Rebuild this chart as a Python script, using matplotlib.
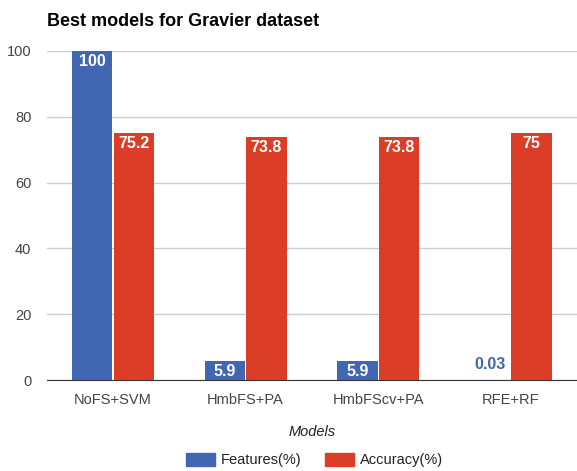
import numpy as np
import matplotlib.pyplot as plt
from matplotlib.patches import Patch

plt.rcParams['font.family'] = ['Liberation Sans', 'DejaVu Sans']

# данные
models = ['NoFS+SVM', 'HmbFS+PA', 'HmbFScv+PA', 'RFE+RF']
features = [100, 5.9, 5.9, 0.03]
accuracy = [75.2, 73.8, 73.8, 75]
feat_labels = ['100', '5.9', '5.9', '0.03']
acc_labels = ['75.2', '73.8', '73.8', '75']

blue = '#4267b2'
red = '#dc3d26'

fig = plt.figure(figsize=(5.77, 4.71), dpi=100)
ax = fig.add_axes([0.081, 0.193, 0.919, 0.699])

x = np.arange(len(models))
w = 0.305
ax.bar(x - w / 2 - 0.004, features, width=w, color=blue, zorder=3)
ax.bar(x + w / 2 + 0.004, accuracy, width=w, color=red, zorder=3)

# подписи значений
for i in range(len(models)):
    if features[i] > 4:
        ax.text(x[i] - w / 2 - 0.004, features[i] - 1.0, feat_labels[i], ha='center', va='top',
                color='white', fontsize=11.5, fontweight='bold', zorder=4)
    else:
        ax.text(x[i] - w / 2 - 0.004, features[i] + 2.5, feat_labels[i], ha='center', va='bottom',
                color=blue, fontsize=11.5, fontweight='bold', zorder=4)
    ax.text(x[i] + w / 2 + 0.004, accuracy[i] - 1.0, acc_labels[i], ha='center', va='top',
            color='white', fontsize=11.5, fontweight='bold', zorder=4)

ax.set_xlim(-0.5, 3.5)
ax.set_ylim(0, 100)
ax.set_yticks([0, 20, 40, 60, 80, 100])
ax.set_xticks(x)
ax.set_xticklabels(models)
ax.tick_params(length=0, labelsize=10.5, labelcolor='#444444')
ax.tick_params(axis='y', pad=11)
ax.tick_params(axis='x', pad=9)
ax.grid(axis='y', color='#cccccc', linewidth=1, zorder=0)
for s in ['top', 'right', 'left']:
    ax.spines[s].set_visible(False)
ax.spines['bottom'].set_color('#333333')
ax.set_xlabel('Models', fontsize=10.5, style='italic', color='#222222', labelpad=13)

fig.text(0.081, 0.955, 'Best models for Gravier dataset', fontsize=13, fontweight='bold',
         color='#000000', va='center')

handles = [Patch(color=blue, label='Features(%)'), Patch(color=red, label='Accuracy(%)')]
fig.legend(handles=handles, loc='center', bbox_to_anchor=(0.545, 0.023), ncol=2, frameon=False,
           fontsize=10.5, handlelength=2.0, handleheight=1.0, handletextpad=0.4,
           columnspacing=1.6, labelcolor='#222222')

plt.savefig('out.png', dpi=100)
